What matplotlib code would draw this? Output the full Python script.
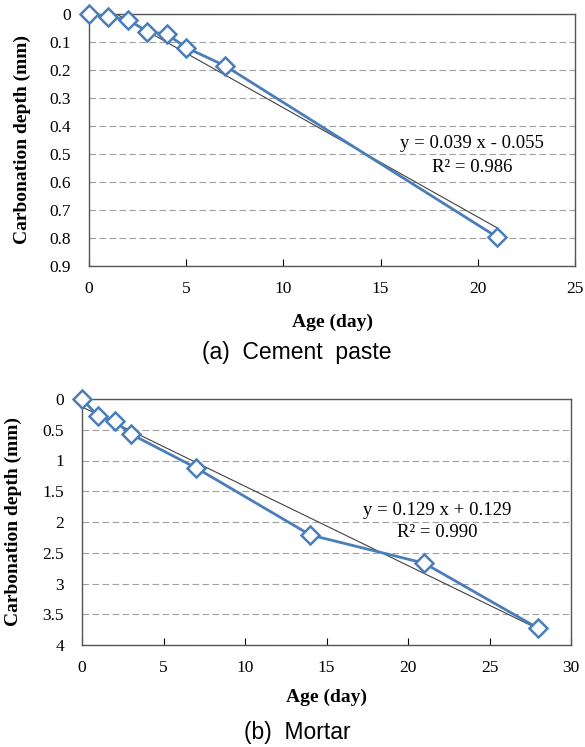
import matplotlib
matplotlib.use("Agg")
import matplotlib.pyplot as plt
import numpy as np

# (a) cement paste
paste_age = [0, 1, 2, 3, 4, 5, 7, 21]
paste_depth = [0.0, 0.01, 0.02, 0.063, 0.072, 0.12, 0.185, 0.797]
paste_fit = (0.039, -0.055)
paste_eq = ["y = 0.039 x - 0.055", "R² = 0.986"]

# (b) mortar
mortar_age = [0, 1, 2, 3, 7, 14, 21, 28]
mortar_depth = [0.0, 0.28, 0.36, 0.57, 1.12, 2.21, 2.67, 3.73]
mortar_fit = (0.129, 0.129)
mortar_eq = ["y = 0.129 x + 0.129", "R² = 0.990"]

blue = "#4a7ebb"
serif = "Liberation Serif"

fig = plt.figure(figsize=(5.85, 7.47), dpi=100)
W, H = 585, 747


def add_ax(left, top, right, bottom):
    return fig.add_axes([left / W, 1 - bottom / H, (right - left) / W, (bottom - top) / H])


def draw(ax, age, depth, fit, eq, xmax, xstep, ymax, ystep, eq_pos, ylabels, xlab_y, ylab_x):
    ax.plot(age, depth, color=blue, lw=2.0, marker="D", ms=9, mfc="white",
            mec=blue, mew=1.8, zorder=3, clip_on=False)
    xs = np.array([0, age[-1]])
    ax.plot(xs, fit[0] * xs + fit[1], color="#404040", lw=0.8, zorder=2)
    ax.set_xlim(0, xmax)
    ax.set_ylim(ymax, 0)
    ax.set_xticks(np.arange(0, xmax + 0.1, xstep))
    yt = np.arange(0, ymax + ystep / 2, ystep)
    ax.set_yticks(yt)
    ax.set_yticklabels(ylabels)
    ax.yaxis.grid(True, color="#a0a0a0", ls=(0, (6, 3)), lw=0.8)
    ax.set_axisbelow(True)
    ax.tick_params(axis="x", direction="in", length=5, pad=11)
    ax.tick_params(axis="y", length=0, pad=13)
    for lab in ax.get_xticklabels() + ax.get_yticklabels():
        lab.set_fontfamily(serif)
        lab.set_fontsize(12.5)
    for s in ax.spines.values():
        s.set_color("#555555")
        s.set_linewidth(1.0)
    ax.set_xlabel("Age (day)", fontfamily=serif, fontweight="bold", fontsize=14)
    ax.set_ylabel("Carbonation depth (mm)", fontfamily=serif, fontweight="bold", fontsize=14)
    ax.xaxis.label.set_va("center")
    ax.yaxis.label.set_va("center")
    ax.xaxis.set_label_coords(0.5, xlab_y)
    ax.yaxis.set_label_coords(ylab_x, 0.5)
    ax.text(eq_pos[0], eq_pos[1], eq[0], ha="center", va="center", fontfamily=serif,
            fontsize=13.5)
    ax.text(eq_pos[0], eq_pos[2], eq[1], ha="center", va="center", fontfamily=serif,
            fontsize=13.5)


ax1 = add_ax(89, 14, 575, 266)
draw(ax1, paste_age, paste_depth, paste_fit, paste_eq, 25, 5, 0.9, 0.1,
     (19.7, 0.464, 0.55), ["0"] + ["%.1f" % v for v in np.arange(0.1, 0.95, 0.1)],
     -0.222, -0.138)

ax2 = add_ax(82, 399, 571, 645)
draw(ax2, mortar_age, mortar_depth, mortar_fit, mortar_eq, 30, 5, 4, 0.5,
     (21.8, 1.81, 2.17), ["0", "0.5", "1", "1.5", "2", "2.5", "3", "3.5", "4"],
     -0.211, -0.14)

fig.text(297 / W, 1 - 353 / H, "(a)  Cement  paste", ha="center", va="center",
         fontfamily="Liberation Sans", fontsize=16.5)
fig.text(297 / W, 1 - 732 / H, "(b)  Mortar", ha="center", va="center",
         fontfamily="Liberation Sans", fontsize=16.5)

fig.savefig("out.png", dpi=100, facecolor="white")
